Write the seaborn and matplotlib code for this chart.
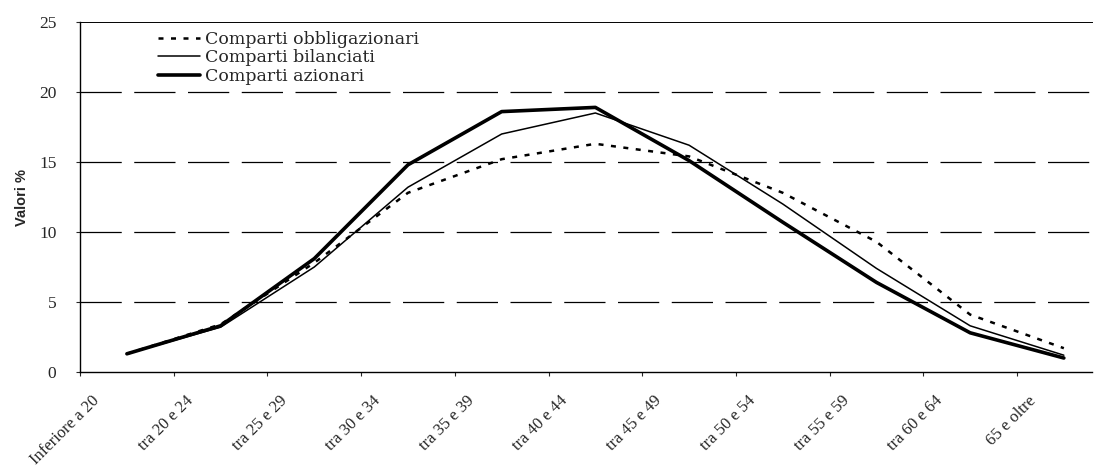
#importing req libs
import numpy as np
import pandas as pd
import matplotlib
matplotlib.use("Agg")
import matplotlib.pyplot as plt
import matplotlib.transforms as mtransforms
import seaborn as sns

# data
classi = ['Inferiore a 20', 'tra 20 e 24', 'tra 25 e 29', 'tra 30 e 34', 'tra 35 e 39',
          'tra 40 e 44', 'tra 45 e 49', 'tra 50 e 54', 'tra 55 e 59', 'tra 60 e 64', '65 e oltre']
obbligazionari = [1.3, 3.4, 7.8, 12.8, 15.2, 16.3, 15.4, 12.8, 9.3, 4.1, 1.7]
bilanciati = [1.3, 3.2, 7.5, 13.2, 17.0, 18.5, 16.2, 12.0, 7.4, 3.3, 1.2]
azionari = [1.3, 3.3, 8.1, 14.8, 18.6, 18.9, 15.1, 10.7, 6.4, 2.8, 1.0]

sns.set_style("white")
plt.rcParams['font.family'] = ['Liberation Serif', 'DejaVu Serif']

fig = plt.figure(figsize=(10.98, 4.66), dpi=100)
ax = fig.add_axes([0.0729, 0.2017, 0.9216, 0.7511])

# gridlines (long dashes)
for v in [5, 10, 15, 20]:
    ax.axhline(v, color='black', lw=0.9, ls=(0, (33, 10)), zorder=0)

df = pd.DataFrame({'Classe': classi, 'obb': obbligazionari, 'bil': bilanciati, 'azi': azionari})
sns.lineplot(data=df, x='Classe', y='obb', sort=False, ax=ax, color='black', lw=1.8,
             ls=(0, (2, 3)), label='Comparti obbligazionari')
sns.lineplot(data=df, x='Classe', y='bil', sort=False, ax=ax, color='black', lw=1.1,
             label='Comparti bilanciati')
sns.lineplot(data=df, x='Classe', y='azi', sort=False, ax=ax, color='black', lw=2.6,
             label='Comparti azionari')

ax.set_xlim(-0.5, 10.3)
ax.set_ylim(0, 25)
ax.set_yticks([0, 5, 10, 15, 20, 25])
ax.tick_params(axis='y', labelsize=12.5, length=3, direction='out', left=True, pad=14)

pos = np.arange(len(classi)) - 0.5
ax.set_xticks(pos)
ax.set_xticklabels(classi, rotation=45, ha='right', va='center', rotation_mode='anchor', fontsize=12)
ax.tick_params(axis='x', length=3, direction='out', bottom=True, pad=16)
offset = mtransforms.ScaledTranslation(0.17, 0, fig.dpi_scale_trans)
for lbl in ax.get_xticklabels():
    lbl.set_transform(lbl.get_transform() + offset)

ax.set_xlabel('')
ax.set_ylabel('Valori %', fontsize=10.5, fontweight='bold', family='Liberation Sans')
ax.yaxis.set_label_coords(-0.05, 0.5)

for s in ['left', 'bottom', 'top']:
    ax.spines[s].set_color('black')
    ax.spines[s].set_linewidth(1.0)
ax.spines['top'].set_linewidth(0.7)
ax.spines['right'].set_visible(False)

leg = ax.legend(loc='upper left', bbox_to_anchor=(0.077, 0.975), frameon=False,
                prop={'family': 'DejaVu Serif', 'size': 12.5},
                handlelength=2.4, handletextpad=0.3, labelspacing=0.1, borderaxespad=0,
                borderpad=0)

fig.savefig('out.png', dpi=100)
